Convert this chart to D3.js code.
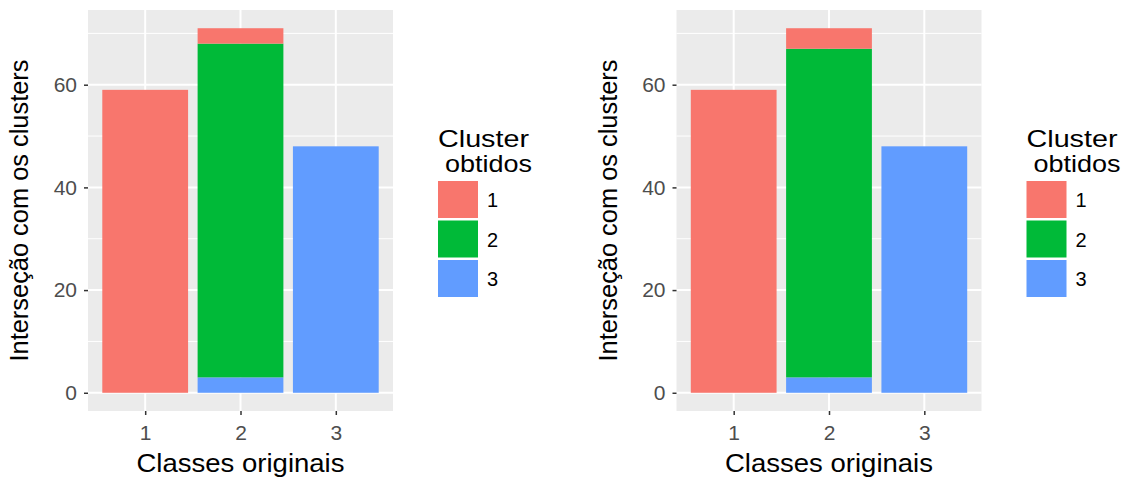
<!DOCTYPE html>
<html>
<head>
<meta charset="utf-8">
<style>
  body { margin: 0; background: #fff; }
  svg { display: block; font-family: "Liberation Sans", Arial, sans-serif; }
</style>
</head>
<body>
<svg id="chart" width="1128" height="479"></svg>
<script src="https://d3js.org/d3.v7.min.js"></script>
<script>
  // data
  var classes = ["1", "2", "3"];
  var clusters = ["1", "2", "3"];
  var clusterColors = ["#F8766D", "#00BA38", "#619CFF"];
  // counts per original class, one array per obtained cluster
  var leftCluster1 = [59, 3, 0];
  var leftCluster2 = [0, 65, 0];
  var leftCluster3 = [0, 3, 48];
  var rightCluster1 = [59, 4, 0];
  var rightCluster2 = [0, 64, 0];
  var rightCluster3 = [0, 3, 48];
  var yTicks = [0, 20, 40, 60];
  var yMinor = [10, 30, 50, 70];

  var svg = d3.select("#chart");
  var color = d3.scaleOrdinal().domain(clusters).range(clusterColors);

  function drawPanel(offsetX, c1, c2, c3) {
    var left = 88, top = 10, w = 305, h = 401;
    var g = svg.append("g").attr("transform", "translate(" + (offsetX + left) + "," + top + ")");

    var rows = classes.map(function (k, i) {
      return {cls: k, "1": c1[i], "2": c2[i], "3": c3[i]};
    });
    // ggplot stacks the first level on top
    var stack = d3.stack().keys(["3", "2", "1"]);
    var series = stack(rows);
    var maxY = d3.max(series, function (s) { return d3.max(s, function (d) { return d[1]; }); });

    var y = d3.scaleLinear().domain([-maxY * 0.05, maxY * 1.05]).range([h, 0]);
    // discrete expansion 0.6: centers at 1..3 over [0.4, 3.6]
    var xc = d3.scalePoint().domain(classes).range([w * 0.6 / 3.2, w * 2.6 / 3.2]);
    var barW = (xc("2") - xc("1")) * 0.9;

    g.append("rect").attr("width", w).attr("height", h).attr("fill", "#EBEBEB");

    g.selectAll(".minor").data(yMinor).enter().append("line")
      .attr("x1", 0).attr("x2", w)
      .attr("y1", function (d) { return y(d); }).attr("y2", function (d) { return y(d); })
      .attr("stroke", "#fff").attr("stroke-width", 1);
    g.selectAll(".major").data(yTicks).enter().append("line")
      .attr("x1", 0).attr("x2", w)
      .attr("y1", function (d) { return y(d); }).attr("y2", function (d) { return y(d); })
      .attr("stroke", "#fff").attr("stroke-width", 2);
    g.selectAll(".vmajor").data(classes).enter().append("line")
      .attr("y1", 0).attr("y2", h)
      .attr("x1", function (d) { return xc(d); }).attr("x2", function (d) { return xc(d); })
      .attr("stroke", "#fff").attr("stroke-width", 2);

    series.forEach(function (s) {
      g.append("g").selectAll("rect").data(s).enter().append("rect")
        .attr("x", function (d) { return xc(d.data.cls) - barW / 2; })
        .attr("width", barW)
        .attr("y", function (d) { return y(d[1]); })
        .attr("height", function (d) { return Math.max(0, y(d[0]) - y(d[1])); })
        .attr("fill", color(s.key));
    });

    // axes
    var yAxis = g.append("g").call(d3.axisLeft(y).tickValues(yTicks).tickSize(4).tickPadding(7));
    var xAxis = g.append("g").attr("transform", "translate(0," + h + ")")
      .call(d3.axisBottom(xc).tickSize(4).tickPadding(10));
    [yAxis, xAxis].forEach(function (a) {
      a.select(".domain").remove();
      a.selectAll(".tick line").attr("stroke", "#333333").attr("stroke-width", 1.5);
      a.selectAll(".tick text").attr("fill", "#4D4D4D").style("font-size", "21px");
    });

    g.append("text").attr("x", w / 2).attr("y", 462)
      .attr("text-anchor", "middle").style("font-size", "25px").attr("fill", "#000")
      .attr("textLength", 208).attr("lengthAdjust", "spacingAndGlyphs")
      .text("Classes originais");
    g.append("text").attr("transform", "translate(-60," + (h / 2) + ") rotate(-90)")
      .attr("text-anchor", "middle").style("font-size", "25px").attr("fill", "#000")
      .attr("textLength", 302).attr("lengthAdjust", "spacingAndGlyphs")
      .text("Interseção com os clusters");

    // legend
    var lg = svg.append("g").attr("transform", "translate(" + (offsetX + 438) + ",0)");
    lg.append("text").attr("x", 0).attr("y", 147).style("font-size", "24px")
      .attr("textLength", 91).attr("lengthAdjust", "spacingAndGlyphs").text("Cluster");
    lg.append("text").attr("x", 7).attr("y", 172).style("font-size", "24px")
      .attr("textLength", 87).attr("lengthAdjust", "spacingAndGlyphs").text("obtidos");
    clusters.forEach(function (k, i) {
      lg.append("rect").attr("x", 0).attr("y", 181 + i * 39.5).attr("width", 40).attr("height", 37)
        .attr("fill", color(k));
      lg.append("text").attr("x", 49).attr("y", 181 + i * 39.5 + 26).style("font-size", "20px")
        .attr("fill", "#000").text(k);
    });
  }

  drawPanel(0, leftCluster1, leftCluster2, leftCluster3);
  drawPanel(588.5, rightCluster1, rightCluster2, rightCluster3);
</script>
</body>
</html>
